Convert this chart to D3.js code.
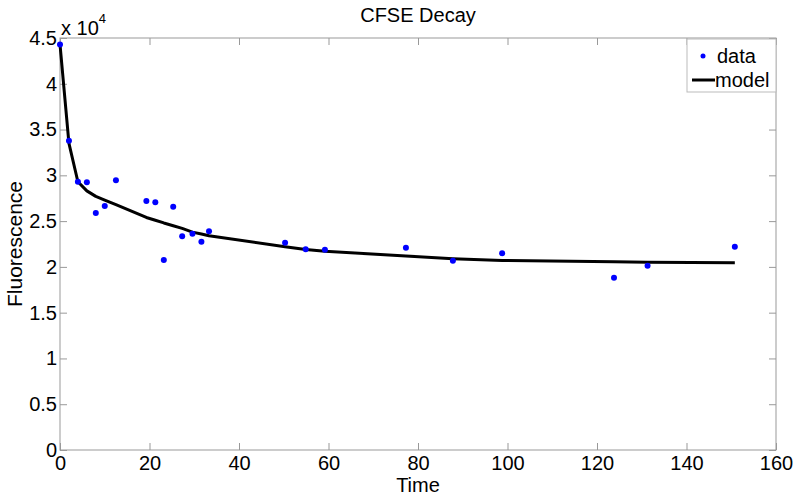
<!DOCTYPE html>
<html>
<head>
<meta charset="utf-8">
<script src="https://cdn.jsdelivr.net/npm/d3@7"></script>
<style>
  body { margin: 0; background: #fff; }
  svg text { font-family: "Liberation Sans", Arial, sans-serif; fill: #000; }
</style>
</head>
<body>
<div id="chart"></div>
<script>
// measured data (time, fluorescence)
var dataTime = [0, 2, 4, 6, 8, 10, 12.5, 19.3, 21.3, 23.2, 25.3, 27.3, 29.6, 31.6, 33.3, 50.3, 54.9, 59.2, 77.3, 87.8, 98.8, 123.8, 131.3, 150.8];
var dataFluor = [44300, 33780, 29300, 29240, 25880, 26650, 29460, 27200, 27050, 20750, 26570, 23340, 23630, 22750, 23880, 22640, 21920, 21880, 22100, 20680, 21480, 18820, 20130, 22200];
// model fit evaluated at the same times
var modelFluor = [44300, 33500, 29300, 28300, 27700, 27300, 26800, 25400, 25100, 24800, 24500, 24200, 23800, 23600, 23400, 22200, 21900, 21700, 21200, 20900, 20700, 20550, 20500, 20460];

var xTicks = [0, 20, 40, 60, 80, 100, 120, 140, 160];
var yTicks = [0, 5000, 10000, 15000, 20000, 25000, 30000, 35000, 40000, 45000];

var width = 800, height = 497;
var margin = {top: 38, right: 24, bottom: 47, left: 60};
var iw = width - margin.left - margin.right,
    ih = height - margin.top - margin.bottom;

var svg = d3.select('#chart').append('svg')
    .attr('width', width)
    .attr('height', height);

var x = d3.scaleLinear().domain([0, 160]).range([0, iw]);
var y = d3.scaleLinear().domain([0, 45000]).range([ih, 0]);

var g = svg.append('g')
    .attr('transform', 'translate(' + margin.left + ',' + margin.top + ')');

var axisColor = '#999';
var tickLen = 7;

function styleAxis(sel) {
  sel.select('.domain').remove();
  sel.selectAll('line').attr('stroke', axisColor);
  sel.selectAll('text').style('font-size', '20px').attr('fill', '#000');
}

// bottom axis (ticks point inward)
g.append('g')
    .attr('transform', 'translate(0,' + ih + ')')
    .call(d3.axisBottom(x).tickValues(xTicks).tickSizeInner(-tickLen).tickSizeOuter(0).tickPadding(6).tickFormat(d3.format('d')))
    .call(styleAxis);

// top ticks
g.append('g')
    .call(d3.axisTop(x).tickValues(xTicks).tickSizeInner(-tickLen).tickSizeOuter(0).tickFormat(''))
    .call(styleAxis);

// left axis
g.append('g')
    .call(d3.axisLeft(y).tickValues(yTicks).tickSizeInner(-tickLen).tickSizeOuter(0).tickPadding(3)
      .tickFormat(function(d) { return d3.format('~g')(d / 10000); }))
    .call(styleAxis);

// right ticks
g.append('g')
    .attr('transform', 'translate(' + iw + ',0)')
    .call(d3.axisRight(y).tickValues(yTicks).tickSizeInner(-tickLen).tickSizeOuter(0).tickFormat(''))
    .call(styleAxis);

// box
g.append('rect')
    .attr('width', iw).attr('height', ih)
    .attr('fill', 'none').attr('stroke', axisColor).attr('stroke-width', 1);

// model line
var line = d3.line()
    .x(function(d, i) { return x(dataTime[i]); })
    .y(function(d) { return y(d); });

g.append('path')
    .datum(modelFluor)
    .attr('d', line)
    .attr('fill', 'none')
    .attr('stroke', '#000')
    .attr('stroke-width', 3)
    .attr('stroke-linejoin', 'round');

// data dots
g.selectAll('circle.pt')
    .data(dataFluor)
    .enter().append('circle')
    .attr('class', 'pt')
    .attr('cx', function(d, i) { return x(dataTime[i]); })
    .attr('cy', function(d) { return y(d); })
    .attr('r', 3)
    .attr('fill', '#0000ff');

// exponent label
var ex = svg.append('text')
    .attr('x', margin.left + 1)
    .attr('y', 35)
    .style('font-size', '20px');
ex.append('tspan').text('x 10');
ex.append('tspan').attr('dy', -12).style('font-size', '13px').text('4');

// title
svg.append('text')
    .attr('x', margin.left + iw / 2)
    .attr('y', 22)
    .attr('text-anchor', 'middle')
    .style('font-size', '20px')
    .text('CFSE Decay');

// axis labels
svg.append('text')
    .attr('x', margin.left + iw / 2)
    .attr('y', 492)
    .attr('text-anchor', 'middle')
    .style('font-size', '20px')
    .text('Time');

svg.append('text')
    .attr('transform', 'translate(22,' + (margin.top + ih / 2) + ') rotate(-90)')
    .attr('text-anchor', 'middle')
    .style('font-size', '21px')
    .text('Fluorescence');

// legend
var lg = svg.append('g')
    .attr('transform', 'translate(' + (margin.left + iw - 89) + ',' + (margin.top + 1) + ')');
lg.append('rect')
    .attr('width', 89).attr('height', 53)
    .attr('fill', '#fff').attr('stroke', '#bbb');
lg.append('circle').attr('cx', 16).attr('cy', 17).attr('r', 2.5).attr('fill', '#0000ff');
lg.append('text').attr('x', 30).attr('y', 24).style('font-size', '20px').text('data');
lg.append('line').attr('x1', 5).attr('x2', 28).attr('y1', 41).attr('y2', 41)
    .attr('stroke', '#000').attr('stroke-width', 3);
lg.append('text').attr('x', 28).attr('y', 48).style('font-size', '20px').text('model');
</script>
</body>
</html>
